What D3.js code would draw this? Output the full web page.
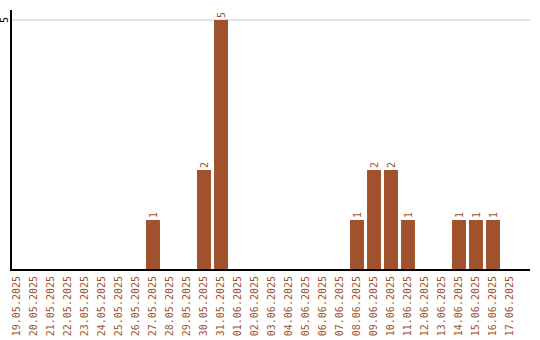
<!DOCTYPE html>
<html><head><meta charset="utf-8">
<script src="https://cdn.jsdelivr.net/npm/d3@7"></script>
<style>body{margin:0;background:#fff}svg{display:block}text{font-family:"DejaVu Sans Mono",monospace;font-size:10px}</style>
</head><body><svg id="c" width="540" height="340"></svg>
<script>
const dates=["19.05.2025","20.05.2025","21.05.2025","22.05.2025","23.05.2025","24.05.2025","25.05.2025","26.05.2025","27.05.2025","28.05.2025","29.05.2025","30.05.2025","31.05.2025","01.06.2025","02.06.2025","03.06.2025","04.06.2025","05.06.2025","06.06.2025","07.06.2025","08.06.2025","09.06.2025","10.06.2025","11.06.2025","12.06.2025","13.06.2025","14.06.2025","15.06.2025","16.06.2025","17.06.2025"];
const counts=[0,0,0,0,0,0,0,0,1,0,0,2,5,0,0,0,0,0,0,0,1,2,2,1,0,0,1,1,1,0];
const yTicks=[5];
const color="#A0522D";
(function(){
const svg=d3.select("#c");
const mLeft=11,mRight=530,mTop=10,mBottom=270;
const x=d3.scaleBand().domain(dates).range([8.5,518.5]).paddingInner(0.18).paddingOuter(0.09);
const y=d3.scaleLinear().domain([0,5.2]).range([mBottom,mTop]);
svg.append("g").selectAll("line").data(yTicks).join("line")
 .attr("x1",mLeft).attr("x2",mRight).attr("y1",d=>y(d)).attr("y2",d=>y(d))
 .attr("stroke","#c8c8c8").attr("stroke-width",1);
svg.append("g").selectAll("text").data(yTicks).join("text")
 .attr("transform",d=>`translate(8,${y(d)}) rotate(-90)`)
 .attr("text-anchor","middle").attr("fill","#000").text(d=>d);
const data=dates.map((d,i)=>({d,v:counts[i]}));
svg.append("g").selectAll("rect").data(data.filter(e=>e.v>0)).join("rect")
 .attr("x",e=>x(e.d)).attr("width",x.bandwidth())
 .attr("y",e=>y(e.v)).attr("height",e=>y(0)-y(e.v)).attr("fill",color);
svg.append("g").selectAll("text").data(data.filter(e=>e.v>0)).join("text")
 .attr("transform",e=>`translate(${x(e.d)+x.bandwidth()/2+3.5},${y(e.v)-2}) rotate(-90)`)
 .attr("text-anchor","start").attr("fill",color).text(e=>e.v);
svg.append("g").selectAll("text").data(dates).join("text")
 .attr("transform",d=>`translate(${x(d)+x.bandwidth()/2+3},276) rotate(-90)`)
 .attr("text-anchor","end").attr("fill",color).text(d=>d);
svg.append("line").attr("x1",mLeft).attr("x2",mLeft).attr("y1",mTop).attr("y2",mBottom+1).attr("stroke","#000").attr("stroke-width",2);
svg.append("line").attr("x1",mLeft-1).attr("x2",mRight).attr("y1",mBottom).attr("y2",mBottom).attr("stroke","#000").attr("stroke-width",2);
})();
</script></body></html>
